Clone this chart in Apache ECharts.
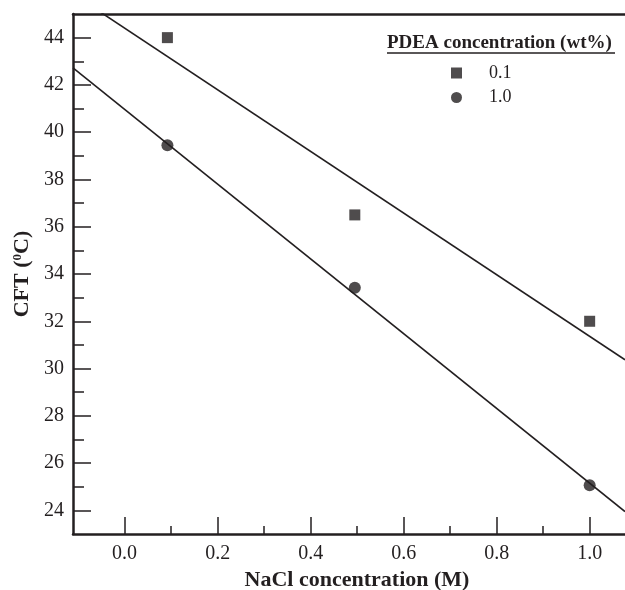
<!DOCTYPE html>
<html>
<head>
<meta charset="utf-8">
<script src="https://cdn.jsdelivr.net/npm/echarts@6/dist/echarts.min.js"></script>
<style>html,body{margin:0;padding:0;background:#fff}#c{width:625px;height:590px}</style>
</head>
<body>
<div id="c"></div>
<script>
// Data
const nacl = [0.092, 0.495, 1.0];            // NaCl concentration (M)
const cft_01 = [44.0, 36.5, 32.0];           // PDEA 0.1 wt%
const cft_10 = [39.45, 33.42, 25.06];        // PDEA 1.0 wt%
const fitX = [-0.111, 1.076];                // fitted-line end points (x)
const fit_01 = [45.85, 30.37];               // fitted line for 0.1 wt%
const fit_10 = [42.72, 23.95];               // fitted line for 1.0 wt%
const xMajor = [0, 0.2, 0.4, 0.6, 0.8, 1.0];
const xMinor = [0.1, 0.3, 0.5, 0.7, 0.9];
const yMajor = [24, 26, 28, 30, 32, 34, 36, 38, 40, 42, 44];
const yMinor = [25, 27, 29, 31, 33, 35, 37, 39, 41, 43];
const seriesNames = ['0.1', '1.0'];

const FONT = '"Liberation Serif", "Times New Roman", serif';
const INK = '#231f20';
const X_MIN = -0.111, X_MAX = 1.076, Y_MIN = 23, Y_MAX = 45;

const zip = (xs, ys) => xs.map((x, i) => [x, ys[i]]);

const chart = echarts.init(document.getElementById('c'), null, {renderer: 'canvas'});
chart.setOption({
  animation: false,
  backgroundColor: '#fff',
  grid: {left: 73, top: 14, right: 0, bottom: 56, containLabel: false, outerBoundsMode: 'none'},
  xAxis: [
    {
      type: 'value', min: X_MIN, max: X_MAX, position: 'bottom',
      axisLine: {show: true, onZero: false, lineStyle: {color: INK, width: 2.5}},
      axisTick: {show: true, inside: true, length: 17, customValues: xMajor, lineStyle: {color: INK, width: 1.5}},
      axisLabel: {show: true, customValues: xMajor, formatter: v => v.toFixed(1), fontSize: 20, color: INK, fontFamily: FONT, margin: 10},
      splitLine: {show: false},
      name: 'NaCl concentration (M)', nameLocation: 'middle', nameGap: 26,
      nameTextStyle: {fontSize: 22, fontWeight: 'bold', color: INK, fontFamily: FONT, padding: [0, 0, 0, 16]}
    },
    {
      type: 'value', min: X_MIN, max: X_MAX, position: 'bottom',
      axisLine: {show: false, onZero: false},
      axisTick: {show: true, inside: true, length: 8, customValues: xMinor, lineStyle: {color: INK, width: 1.5}},
      axisLabel: {show: false},
      splitLine: {show: false}
    },
    {
      type: 'value', min: X_MIN, max: X_MAX, position: 'top',
      axisLine: {show: true, onZero: false, lineStyle: {color: INK, width: 2.5}},
      axisTick: {show: false}, axisLabel: {show: false}, splitLine: {show: false}
    }
  ],
  yAxis: [
    {
      type: 'value', min: Y_MIN, max: Y_MAX, position: 'left',
      axisLine: {show: true, onZero: false, lineStyle: {color: INK, width: 2.5}},
      axisTick: {show: true, inside: true, length: 18, customValues: yMajor, lineStyle: {color: INK, width: 1.5}},
      axisLabel: {show: true, customValues: yMajor, fontSize: 20, color: INK, fontFamily: FONT, margin: 9},
      splitLine: {show: false},
      name: '{a|CFT (}{s|0}{a|C)}', nameLocation: 'middle', nameGap: 36, nameRotate: 90,
      nameTextStyle: {
        rich: {
          a: {fontSize: 22, fontWeight: 'bold', color: INK, fontFamily: FONT},
          s: {fontSize: 13, fontWeight: 'bold', color: INK, fontFamily: FONT, verticalAlign: 'top', padding: [0, 0, 9, 0]}
        }
      }
    },
    {
      type: 'value', min: Y_MIN, max: Y_MAX, position: 'left',
      axisLine: {show: false, onZero: false},
      axisTick: {show: true, inside: true, length: 11, customValues: yMinor, lineStyle: {color: INK, width: 1.5}},
      axisLabel: {show: false},
      splitLine: {show: false}
    }
  ],
  legend: {
    data: seriesNames,
    orient: 'vertical', left: 451, top: 64, padding: 0,
    itemWidth: 11, itemHeight: 11, itemGap: 6.5,
    textStyle: {fontSize: 18, lineHeight: 18, color: INK, fontFamily: FONT, padding: [0, 0, 0, 22]}
  },
  graphic: [
    {type: 'text', left: 387, top: 34, style: {text: 'PDEA concentration (wt%)', font: 'bold 19px ' + FONT, fill: INK}},
    {type: 'line', shape: {x1: 387, y1: 53, x2: 615, y2: 53}, style: {stroke: INK, lineWidth: 1.5}}
  ],
  series: [
    {name: seriesNames[0], type: 'scatter', xAxisIndex: 0, yAxisIndex: 0, symbol: 'rect', symbolSize: 11,
     itemStyle: {color: INK}, data: zip(nacl, cft_01), z: 5},
    {name: seriesNames[1], type: 'scatter', xAxisIndex: 0, yAxisIndex: 0, symbol: 'circle', symbolSize: 12,
     itemStyle: {color: INK}, data: zip(nacl, cft_10), z: 5},
    {name: 'fit01', type: 'line', xAxisIndex: 0, yAxisIndex: 0, showSymbol: false, symbol: 'none', clip: true,
     lineStyle: {color: INK, width: 1.6}, data: zip(fitX, fit_01), z: 3},
    {name: 'fit10', type: 'line', xAxisIndex: 0, yAxisIndex: 0, showSymbol: false, symbol: 'none', clip: true,
     lineStyle: {color: INK, width: 1.6}, data: zip(fitX, fit_10), z: 3}
  ]
});
</script>
</body>
</html>
